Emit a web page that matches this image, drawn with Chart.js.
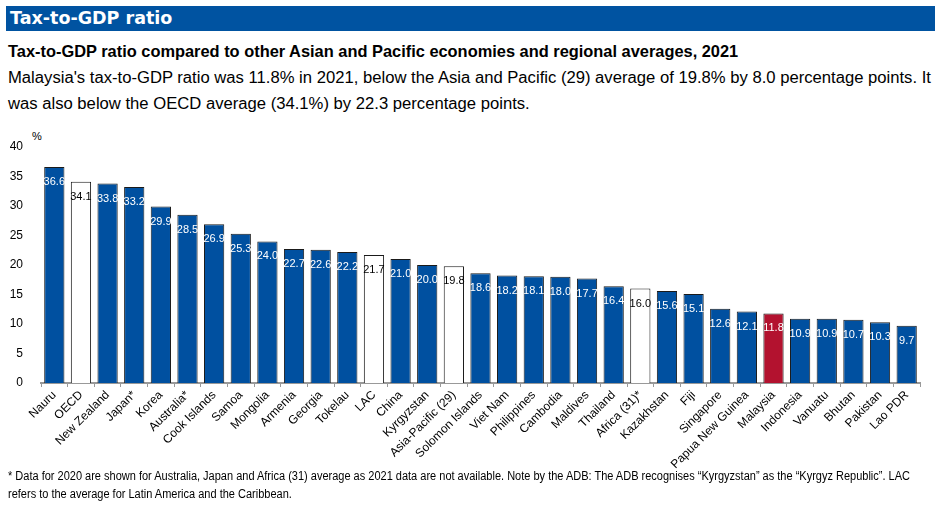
<!DOCTYPE html>
<html>
<head>
<meta charset="utf-8">
<script src="https://cdn.jsdelivr.net/npm/chart.js@4.4.0/dist/chart.umd.min.js"></script>
<style>
  body { margin: 0; width: 940px; height: 506px; background: #fff; position: relative; overflow: hidden; font-family: "Liberation Sans", Arial, sans-serif; }
  .titlebar { position: absolute; left: 6px; top: 6px; width: 929px; height: 25px; background: #0053a1; color: #fff; font: bold 17.5px "DejaVu Sans", sans-serif; line-height: 25px; padding-left: 4px; box-sizing: border-box; }
  .subtitle { position: absolute; left: 8px; top: 42px; font: bold 16.4px "Liberation Sans", Arial, sans-serif; color: #000; white-space: nowrap; }
  .desc { position: absolute; left: 8px; top: 65px; width: 934px; font-size: 16.65px; line-height: 26px; color: #000; }
  .unit { position: absolute; left: 32px; top: 130px; font-size: 11px; color: #000; }
  .note { position: absolute; left: 8px; top: 467px; width: 1010px; font-size: 12px; line-height: 18px; color: #000; transform: scaleX(0.917); transform-origin: left top; }
  #wrap { position: absolute; left: 0; top: 125px; width: 940px; height: 345px; }
</style>
</head>
<body>
<div class="titlebar">Tax-to-GDP ratio</div>
<div class="subtitle">Tax-to-GDP ratio compared to other Asian and Pacific economies and regional averages, 2021</div>
<div class="desc">Malaysia's tax-to-GDP ratio was 11.8% in 2021, below the Asia and Pacific (29) average of 19.8% by 8.0 percentage points. It was also below the OECD average (34.1%) by 22.3 percentage points.</div>
<div class="unit">%</div>
<div id="wrap"><canvas id="chart"></canvas></div>
<div class="note">* Data for 2020 are shown for Australia, Japan and Africa (31) average as 2021 data are not available. Note by the ADB: The ADB recognises “Kyrgyzstan” as the “Kyrgyz Republic”. LAC<br>refers to the average for Latin America and the Caribbean.</div>

<script>
"use strict";

// data
const countries = [
  'Nauru', 'OECD', 'New Zealand', 'Japan*', 'Korea', 'Australia*', 'Cook Islands',
  'Samoa', 'Mongolia', 'Armenia', 'Georgia', 'Tokelau', 'LAC', 'China', 'Kyrgyzstan',
  'Asia-Pacific (29)', 'Solomon Islands', 'Viet Nam', 'Philippines', 'Cambodia',
  'Maldives', 'Thailand', 'Africa (31)*', 'Kazakhstan', 'Fiji', 'Singapore',
  'Papua New Guinea', 'Malaysia', 'Indonesia', 'Vanuatu', 'Bhutan', 'Pakistan', 'Lao PDR'
];
const taxRatio = [
  36.6, 34.1, 33.8, 33.2, 29.9, 28.5, 26.9, 25.3, 24.0, 22.7, 22.6, 22.2, 21.7, 21.0, 20.0,
  19.8, 18.6, 18.2, 18.1, 18.0, 17.7, 16.4, 16.0, 15.6, 15.1, 12.6, 12.1, 11.8, 10.9, 10.9,
  10.7, 10.3, 9.7
];
const averages = ['OECD', 'LAC', 'Asia-Pacific (29)', 'Africa (31)*'];
const highlight = 'Malaysia';
const yTicks = [0, 5, 10, 15, 20, 25, 30, 35, 40];

const BLUE = '#0050a0';
const RED = '#b3122f';

const fillColors = countries.map((c) => {
  if (c === highlight) return RED;
  if (averages.includes(c)) return '#ffffff';
  return BLUE;
});

// value labels inside the top of each bar
const barLabels = {
  id: 'barLabels',
  afterDatasetsDraw(chart) {
    const ctx = chart.ctx;
    const meta = chart.getDatasetMeta(0);
    ctx.save();
    ctx.font = '11px "Liberation Sans", Arial, sans-serif';
    ctx.textAlign = 'center';
    ctx.textBaseline = 'middle';
    meta.data.forEach((bar, i) => {
      ctx.fillStyle = averages.includes(countries[i]) ? '#000' : '#fff';
      ctx.fillText(taxRatio[i].toFixed(1), bar.x, bar.y + 15);
    });
    ctx.restore();
  }
};

const ctx = document.getElementById('chart').getContext('2d');
new Chart(ctx, {
  type: 'bar',
  data: {
    labels: countries,
    datasets: [{
      data: taxRatio,
      backgroundColor: fillColors,
      borderColor: '#1a1a1a',
      borderWidth: 1,
      borderSkipped: 'bottom',
      categoryPercentage: 1,
      barPercentage: 0.76
    }]
  },
  options: {
    responsive: true,
    maintainAspectRatio: false,
    animation: false,
    layout: { padding: { top: 22, right: 20, left: 0, bottom: 0 } },
    plugins: {
      legend: { display: false },
      tooltip: { enabled: false }
    },
    scales: {
      x: {
        grid: { display: true, drawOnChartArea: false, offset: true, tickLength: 4, color: '#999' },
        border: { display: true, color: '#999', width: 2 },
        ticks: {
          autoSkip: false,
          maxRotation: 45,
          minRotation: 45,
          padding: 1,
          color: '#000',
          font: { family: '"Liberation Sans", Arial, sans-serif', size: 12 }
        },
        afterFit: (s) => { s.height = 87; }
      },
      y: {
        min: 0,
        max: 40,
        afterBuildTicks: (s) => { s.ticks = yTicks.map((v) => ({ value: v })); },
        grid: { display: false },
        border: { display: false },
        ticks: {
          padding: 10,
          color: '#000',
          font: { family: '"Liberation Sans", Arial, sans-serif', size: 12 }
        },
        afterFit: (s) => { s.width = 41; }
      }
    }
  },
  plugins: [barLabels]
});
</script>
</body>
</html>
